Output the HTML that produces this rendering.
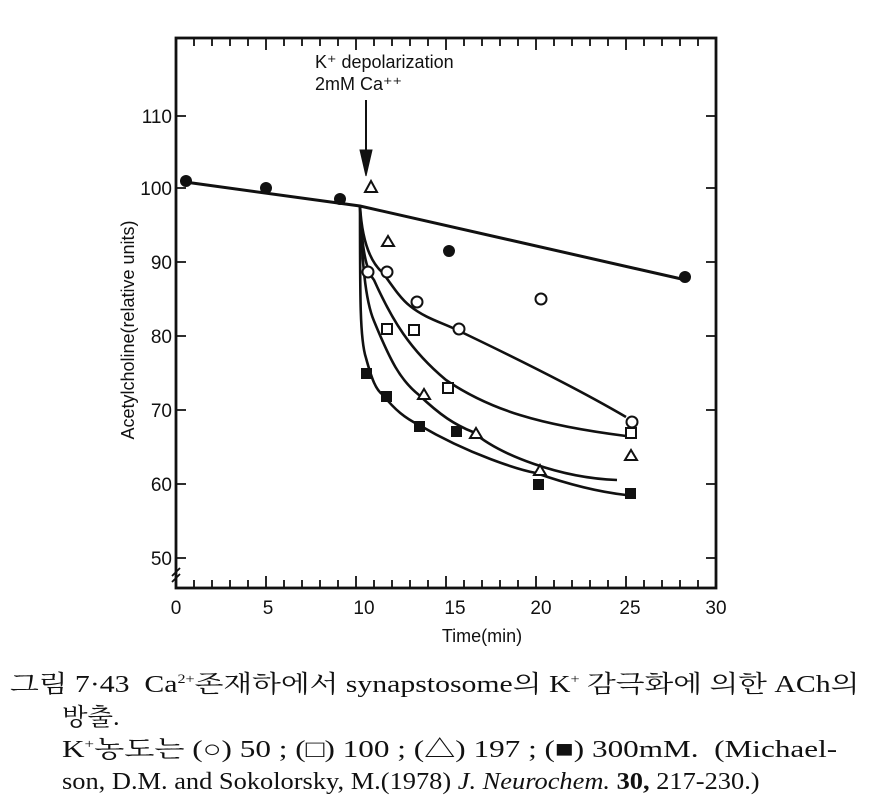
<!DOCTYPE html>
<html><head><meta charset="utf-8"><style>
body{margin:0;background:#fff;width:879px;height:809px;overflow:hidden;}
svg{position:absolute;left:0;top:0}
.cap{position:absolute;font-family:"Liberation Serif","Noto Serif CJK SC","NanumGothic",serif;font-size:24px;line-height:30px;height:30px;color:#111;white-space:nowrap;transform-origin:0 0;}
.cap sup{font-size:13px;line-height:0;vertical-align:9px}
</style></head><body>
<svg width="879" height="650" font-family="Liberation Sans, DejaVu Sans, sans-serif" fill="none" stroke="#111">
<rect x="176" y="38" width="540" height="550" stroke-width="2.8"/>
<g stroke-width="1.8">
<path d="M194 38v8M212 38v8M230 38v8M248 38v8M266 38v12M284 38v8M302 38v8M320 38v8M338 38v8M356 38v12M374 38v8M392 38v8M410 38v8M428 38v8M446 38v12M464 38v8M482 38v8M500 38v8M518 38v8M536 38v12M554 38v8M572 38v8M590 38v8M608 38v8M626 38v12M644 38v8M662 38v8M680 38v8M698 38v8"/>
<path d="M194 588v-8M212 588v-8M230 588v-8M248 588v-8M266 588v-12M284 588v-8M302 588v-8M320 588v-8M338 588v-8M356 588v-12M374 588v-8M392 588v-8M410 588v-8M428 588v-8M446 588v-12M464 588v-8M482 588v-8M500 588v-8M518 588v-8M536 588v-12M554 588v-8M572 588v-8M590 588v-8M608 588v-8M626 588v-12M644 588v-8M662 588v-8M680 588v-8M698 588v-8"/>
<path d="M176 116h10M176 188h10M176 262h10M176 336h10M176 410h10M176 484h10M176 558h10"/>
<path d="M716 116h-10M716 188h-10M716 262h-10M716 336h-10M716 410h-10M716 484h-10M716 558h-10"/>
<path d="M172 576l8 -8M172 582l8 -8"/>
</g>
<g fill="#111" stroke="none" font-size="19" text-anchor="end">
<text x="172" y="123">110</text><text x="172" y="195">100</text><text x="172" y="269">90</text>
<text x="172" y="343">80</text><text x="172" y="417">70</text><text x="172" y="491">60</text><text x="172" y="565">50</text>
</g>
<g fill="#111" stroke="none" font-size="19" text-anchor="middle">
<text x="176" y="614">0</text><text x="268" y="614">5</text><text x="364" y="614">10</text><text x="455" y="614">15</text>
<text x="541" y="614">20</text><text x="630" y="614">25</text><text x="716" y="614">30</text>
<text x="482" y="642" font-size="18">Time(min)</text>
<text transform="translate(134,330) rotate(-90)" font-size="18">Acetylcholine(relative units)</text>
<text x="315" y="68" text-anchor="start" font-size="18">K⁺ depolarization</text>
<text x="315" y="90" text-anchor="start" font-size="18">2mM Ca⁺⁺</text>
</g>
<path d="M366 100V160" stroke-width="2"/>
<path d="M360 150L366 176L372 150Z" fill="#111"/>
<path d="M185 182L360 206L686 280" stroke-width="3"/>
<g stroke-width="2.6">
<path d="M360 206C362 240 370 262 383 273C395 290 402 300 410 306C425 318 440 322 455 329C520 360 580 390 626 417"/>
<path d="M360 206C362 250 366 270 374 280C392 320 410 350 446 380C490 410 540 425 626 436"/>
<path d="M360 206C362 260 365 300 374 321C390 360 400 380 419 395C440 415 455 425 473 432C500 455 560 478 617 480"/>
<path d="M360 206C360 300 360 340 366 358C372 380 376 390 383 395C395 410 405 418 419 425C470 455 520 470 536 473C570 485 600 492 626 495"/>
</g>
<g fill="#111" stroke="none">
<circle cx="186" cy="181" r="6"/><circle cx="266" cy="188" r="6"/><circle cx="340" cy="199" r="6"/>
<circle cx="449" cy="251" r="6"/><circle cx="685" cy="277" r="6"/>
<rect x="361" y="368" width="11" height="11"/><rect x="381" y="391" width="11" height="11"/>
<rect x="414" y="421" width="11" height="11"/><rect x="451" y="426" width="11" height="11"/>
<rect x="533" y="479" width="11" height="11"/><rect x="625" y="488" width="11" height="11"/>
</g>
<g fill="#fff" stroke-width="2">
<circle cx="368" cy="272" r="5.5"/><circle cx="387" cy="272" r="5.5"/><circle cx="417" cy="302" r="5.5"/>
<circle cx="459" cy="329" r="5.5"/><circle cx="541" cy="299" r="5.5"/><circle cx="632" cy="422" r="5.5"/>
<rect x="382" y="324" width="10" height="10"/><rect x="409" y="325" width="10" height="10"/>
<rect x="443" y="383" width="10" height="10"/><rect x="626" y="428" width="10" height="10"/>
<path d="M365 192L371 181L377 192Z"/><path d="M382 246L388 236L394 246Z"/>
<path d="M418 399L424 389L430 399Z"/><path d="M470 438L476 428L482 438Z"/>
<path d="M534 475L540 465L546 475Z"/><path d="M625 460L631 450L637 460Z"/>
</g>
</svg>
<div class="cap" style="left:10px;top:670px;transform:scaleX(1.24)">그림 7·43&nbsp; Ca<sup>2+</sup>존재하에서 synapstosome의 K<sup>+</sup> 감극화에 의한 ACh의</div>
<div class="cap" style="left:62px;top:703px;transform:scaleX(1.1)">방출.</div>
<div class="cap" style="left:62px;top:735px;transform:scaleX(1.3)">K<sup>+</sup>농도는 (○) 50 ; (□) 100 ; (△) 197 ; (■) 300mM.&nbsp; (Michael-</div>
<div class="cap" style="left:62px;top:767px;transform:scaleX(1.1)">son, D.M. and Sokolorsky, M.(1978) <i>J. Neurochem.</i> <b>30,</b> 217-230.)</div>
</body></html>
